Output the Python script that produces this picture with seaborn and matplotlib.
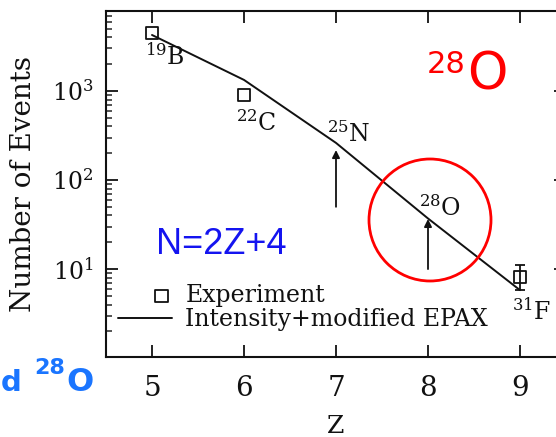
import numpy as np
import pandas as pd
import seaborn as sns
import matplotlib
matplotlib.use("Agg")
import matplotlib.pyplot as plt
from matplotlib.patches import Ellipse
from matplotlib.ticker import LogLocator, NullFormatter, FixedLocator
from matplotlib.legend_handler import HandlerPathCollection

# ---- data ----
model_z = [5, 6, 7, 8, 9]
model_n = [4250, 1330, 261, 37, 5.8]

exp_z = [5, 6, 9]
exp_n = [4450, 900, 8.2]
exp_err_lo = [0, 0, 2.4]
exp_err_hi = [0, 0, 2.9]

limit_z = [7, 8]
limit_from = [50, 10]
limit_to = [217, 36.5]

iso_labels = [r"$^{19}$B", r"$^{22}$C", r"$^{25}$N", r"$^{28}$O", r"$^{31}$F"]

x_ticks = [5, 6, 7, 8, 9]

# ---- style ----
sns.set_style("ticks")
plt.rcParams["font.family"] = ["DejaVu Serif"]
plt.rcParams["mathtext.fontset"] = "dejavuserif"

W, H = 556, 437
fig = plt.figure(figsize=(W / 100, H / 100), dpi=100)
ax = fig.add_axes([106 / W, 1 - 357 / H, 460 / W, 346 / H])

ink = "#111111"

df_model = pd.DataFrame({"Z": model_z, "N": model_n})
df_exp = pd.DataFrame({"Z": exp_z, "N": exp_n})

sns.lineplot(data=df_model, x="Z", y="N", ax=ax, color=ink, lw=1.4,
             label="Intensity+modified EPAX", zorder=2)
sns.scatterplot(data=df_exp, x="Z", y="N", ax=ax, marker="s", s=80,
                facecolor="none", edgecolor=ink, linewidth=1.3,
                label="Experiment", zorder=3)

# error bars (only where nonzero)
for z, n, lo, hi in zip(exp_z, exp_n, exp_err_lo, exp_err_hi):
    if lo > 0 or hi > 0:
        ax.errorbar([z], [n], yerr=[[lo], [hi]], fmt="none", ecolor=ink,
                    elinewidth=1.3, capsize=3.8, capthick=1.3, zorder=2)

# limit arrows
for z, a, b in zip(limit_z, limit_from, limit_to):
    ax.annotate("", xy=(z, b), xytext=(z, a),
                arrowprops=dict(arrowstyle="-|>", color=ink, lw=1.3,
                                mutation_scale=11, shrinkA=0, shrinkB=0))

ax.set_yscale("log")
ax.set_xlim(4.5, 9.5)
ax.set_ylim(1.03, 7900)
ax.xaxis.set_major_locator(FixedLocator(x_ticks))
ax.set_xticklabels([str(t) for t in x_ticks])
ax.yaxis.set_major_locator(FixedLocator([10, 100, 1000]))
ax.yaxis.set_minor_locator(LogLocator(base=10, subs=np.arange(2, 10)))
ax.yaxis.set_minor_formatter(NullFormatter())
ax.set_yticklabels([r"$10^1$", r"$10^2$", r"$10^3$"])

ax.tick_params(axis="both", which="major", direction="in", length=8.5,
               width=1.3, top=True, right=True, colors=ink)
ax.tick_params(axis="x", which="major", labelsize=20, pad=13)
ax.tick_params(axis="y", which="major", labelsize=17, pad=9)
ax.tick_params(axis="y", which="minor", direction="in", length=4.5,
               width=1.1, right=True, left=True)
ax.tick_params(axis="x", which="minor", bottom=False, top=False)
for sp in ax.spines.values():
    sp.set_linewidth(1.5)
    sp.set_color(ink)
    sp.set_visible(True)

ax.set_xlabel("Z", fontsize=18, color=ink, labelpad=9)
ax.set_ylabel("Number of Events", fontsize=20, color=ink, labelpad=11)

# isotope labels, offset in pixels from the model curve
offsets = [(-7, -8, "top"), (-8, -30, "top"), (-9, -4, "bottom"),
           (-9, -3, "bottom"), (-8, -8, "top")]
for z, n, lab, (dx, dy, va) in zip(model_z, model_n, iso_labels, offsets):
    ax.annotate(lab, xy=(z, n), xytext=(dx, dy), textcoords="offset pixels",
                ha="left", va=va, fontsize=17, color=ink)


class RightMarker(HandlerPathCollection):
    def get_xdata(self, legend, xdescent, ydescent, width, height, fontsize):
        x = -xdescent + 0.8 * width
        return [x], [x]


handles, labels = ax.get_legend_handles_labels()
order = [labels.index("Experiment"), labels.index("Intensity+modified EPAX")]
h_exp = handles[order[0]]
leg = ax.legend([handles[i] for i in order], [labels[i] for i in order],
                loc="upper left", bbox_to_anchor=(118 / W, 1 - 284 / H),
                bbox_transform=fig.transFigure, frameon=False, fontsize=17,
                handlelength=2.3, handletextpad=0.55, labelspacing=0.05,
                borderpad=0, borderaxespad=0, scatterpoints=1,
                handler_map={h_exp: RightMarker()})
for t in leg.get_texts():
    t.set_color(ink)

# annotations drawn on top of the chart
fig.add_artist(Ellipse((430 / W, 1 - 220 / H), 122 / W, 122 / H,
                       transform=fig.transFigure, fill=False,
                       edgecolor="#ff0000", lw=2))
fig.text(427 / W, 1 - 73 / H, "28", color="#ff0000", fontsize=22,
         family=["DejaVu Sans"], ha="left", va="baseline")
fig.text(467 / W, 1 - 90 / H, "O", color="#ff0000", fontsize=37,
         family=["DejaVu Sans"], ha="left", va="baseline")
fig.text(156 / W, 1 - 254 / H, "N=2Z+4", color="#1414f0", fontsize=26,
         family=["Liberation Sans"], ha="left", va="baseline")
fig.text(1 / W, 1 - 391 / H, "d", color="#1a75ff", fontsize=21,
         family=["DejaVu Sans"], fontweight="bold", ha="left",
         va="baseline")
fig.text(34 / W, 1 - 374 / H, "28", color="#1a75ff", fontsize=16,
         family=["DejaVu Sans"], fontweight="bold", ha="left",
         va="baseline")
fig.text(66 / W, 1 - 391 / H, "O", color="#1a75ff", fontsize=23,
         family=["DejaVu Sans"], fontweight="bold", ha="left",
         va="baseline")

fig.savefig("out.png", dpi=100)
